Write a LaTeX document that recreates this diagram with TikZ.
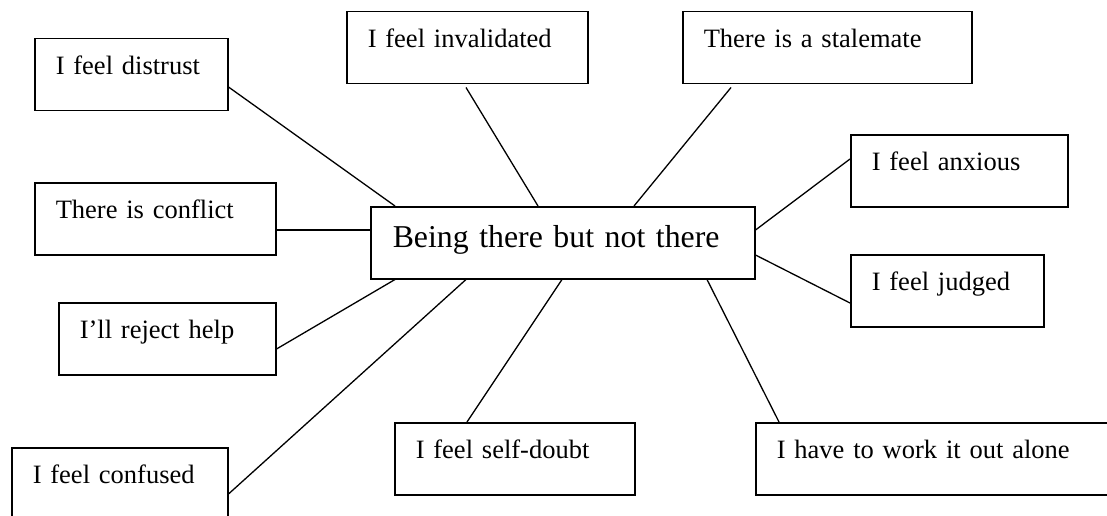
\documentclass[tikz,border=0pt]{standalone}
\usepackage{fontspec}
\setmainfont{Liberation Serif}
\begin{document}
\begin{tikzpicture}[x=1pt,y=-1pt,
  idea/.style={draw, line width=1.5pt, anchor=north west, align=left,
    inner xsep=21pt, inner ysep=0pt, text height=35.5pt, text depth=36.5pt,
    font=\fontsize{26.5}{30}\selectfont},
  hub/.style={idea, inner xsep=22pt, text height=41pt, text depth=31pt,
    font=\fontsize{31.8}{36}\selectfont},
  link/.style={line width=1.3pt}]
\useasboundingbox[fill=white] (0,0) rectangle (1107,516);

% central theme
\node[hub, text width=340pt] (ctr) at (370,206) {Being there but not there};

% surrounding feelings
\node[idea, text width=151pt] (dis) at (34,38)   {I feel distrust};
\node[idea, text width=199pt] (inv) at (346,11)  {I feel invalidated};
\node[idea, text width=247pt] (sta) at (682,11)  {There is a stalemate};
\node[idea, text width=175pt] (anx) at (850,134) {I feel anxious};
\node[idea, text width=199pt] (con) at (34,182)  {There is conflict};
\node[idea, text width=151pt] (jud) at (850,254) {I feel judged};
\node[idea, text width=175pt] (rej) at (58,302)  {I’ll reject help};
\node[idea, text width=198pt] (sd)  at (394,422) {I feel self-doubt};
\node[idea, text width=318pt] (wrk) at (755,422) {I have to work it out alone};
\node[idea, text width=174pt, text depth=40pt] (cnf) at (11,447) {I feel confused};

% spokes
\draw[link] ([yshift=-49pt]dis.north east) -- ([xshift=25pt]ctr.north west);
\draw[link] ([xshift=120pt,yshift=-3pt]inv.south west) -- ([xshift=168pt]ctr.north west);
\draw[link] ([xshift=49pt,yshift=-3pt]sta.south west) -- ([xshift=264pt]ctr.north west);
\draw[link] ([yshift=-24pt]ctr.north east) -- ([yshift=-25pt]anx.north west);
\draw[link] ([yshift=-49pt]ctr.north east) -- ([yshift=-49pt]jud.north west);
\draw[link] ([yshift=-48pt]con.north east) -- ([yshift=-24pt]ctr.north west);
\draw[link] ([yshift=-47pt]rej.north east) -- ([xshift=25pt]ctr.south west);
\draw[link] ([yshift=-47pt]cnf.north east) -- ([xshift=96pt]ctr.south west);
\draw[link] ([xshift=73pt]sd.north west) -- ([xshift=192pt]ctr.south west);
\draw[link] ([xshift=24pt]wrk.north west) -- ([xshift=337pt]ctr.south west);
\end{tikzpicture}
\end{document}
